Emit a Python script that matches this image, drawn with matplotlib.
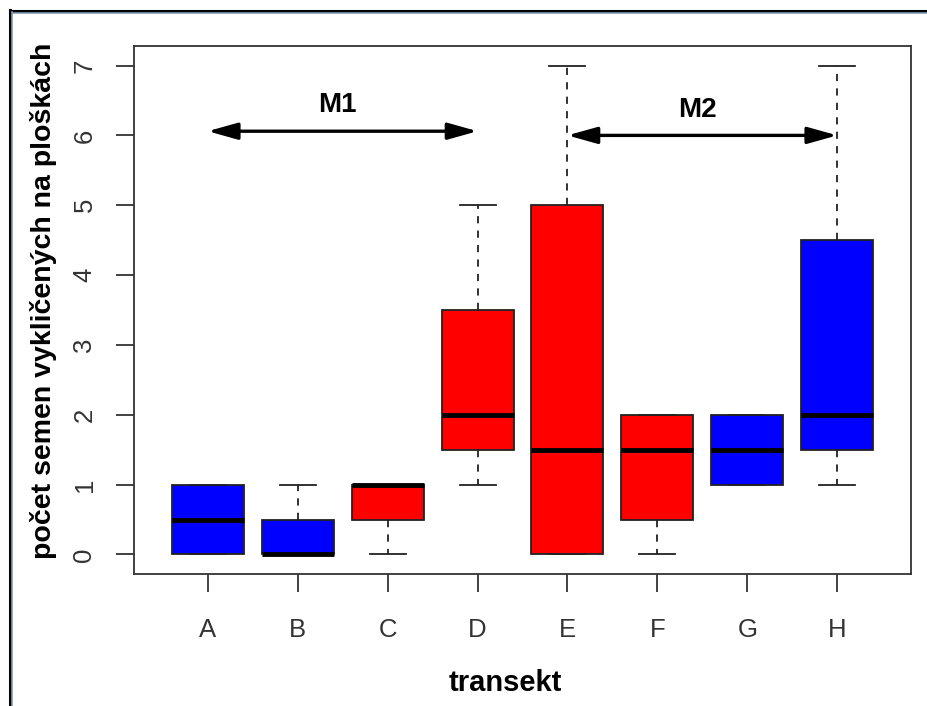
import matplotlib.pyplot as plt
from matplotlib.lines import Line2D

plt.rcParams['font.family'] = ['Liberation Sans', 'DejaVu Sans']

# pocet semen na ploskach podle transektu
transekty = ['A', 'B', 'C', 'D', 'E', 'F', 'G', 'H']
dolni_vous = [0, 0, 0, 1, 0, 0, 1, 1]
q1 = [0, 0, 0.5, 1.5, 0, 0.5, 1, 1.5]
median = [0.5, 0, 1, 2, 1.5, 1.5, 1.5, 2]
q3 = [1, 0.5, 1, 3.5, 5, 2, 2, 4.5]
horni_vous = [1, 1, 1, 5, 7, 2, 2, 7]
barvy = ['#0000FF', '#0000FF', '#FF0000', '#FF0000',
         '#FF0000', '#FF0000', '#0000FF', '#0000FF']

# useky M1 a M2 (od transektu, do transektu, vyska sipky)
useky = ['M1', 'M2']
useky_od = [1, 5]
useky_do = [4, 8]
useky_y = [6.06, 6.0]

stats = []
for i in range(len(transekty)):
    stats.append({'label': transekty[i], 'whislo': dolni_vous[i], 'q1': q1[i],
                  'med': median[i], 'q3': q3[i], 'whishi': horni_vous[i],
                  'fliers': []})

fig = plt.figure(figsize=(9.27, 7.06), dpi=100)
ax = fig.add_axes([134 / 927, 132 / 706, 777 / 927, 528 / 706])

bp = ax.bxp(stats, positions=range(1, 9), widths=0.8, capwidths=0.4,
            patch_artist=True, showfliers=False,
            boxprops=dict(edgecolor='#222222', linewidth=1.3),
            medianprops=dict(color='black', linewidth=3.5, solid_capstyle='butt'),
            whiskerprops=dict(color='#222222', linewidth=1.3, linestyle=(0, (4, 4))),
            capprops=dict(color='#222222', linewidth=1.3))
for box, c in zip(bp['boxes'], barvy):
    box.set_facecolor(c)

for nazev, x0, x1, y in zip(useky, useky_od, useky_do, useky_y):
    ax.annotate('', xy=(x1, y), xytext=(x0, y),
                arrowprops=dict(arrowstyle='<|-|>,head_length=1.0,head_width=0.28',
                                mutation_scale=18, color='black', lw=2.4,
                                shrinkA=0, shrinkB=0))
    ax.text((x0 + x1) / 2 - 0.06, y + 0.37, nazev, ha='center', va='center',
            fontsize=20, fontweight='bold')

ax.set_xlim(0.18, 8.82)
ax.set_ylim(-0.28, 7.28)
ax.set_yticks(range(0, 8))
ax.set_xticks(range(1, 9))
ax.set_xticklabels(transekty)
ax.tick_params(axis='both', length=13, width=1.3, color='#333333',
               labelsize=18.5, labelcolor='#333333')
ax.tick_params(axis='x', pad=19)
ax.tick_params(axis='y', pad=14)
for lab in ax.get_yticklabels():
    lab.set_rotation(90)
    lab.set_va('center')
for s in ax.spines.values():
    s.set_linewidth(1.3)
    s.set_color('#333333')

fig.text(44 / 927, 1 - 301 / 706, 'počet semen vykličených na ploškách',
         rotation=90, ha='center', va='center', fontsize=20.5, fontweight='bold')
fig.text(505 / 927, 1 - 683 / 706, 'transekt', ha='center', va='center',
         fontsize=21, fontweight='bold')

# ramecek kolem obrazku (jen horni a leva strana)
fig.add_artist(Line2D([10 / 927, 1], [1 - 10.5 / 706] * 2, color='black', lw=2.2))
fig.add_artist(Line2D([12 / 927, 1], [1 - 13 / 706] * 2, color='#7f9bb5', lw=1.2))
fig.add_artist(Line2D([9.5 / 927] * 2, [0, 1 - 10 / 706], color='black', lw=2.2))
fig.add_artist(Line2D([12 / 927] * 2, [0, 1 - 12 / 706], color='#7f9bb5', lw=1.2))

fig.savefig('out.png', dpi=100)
